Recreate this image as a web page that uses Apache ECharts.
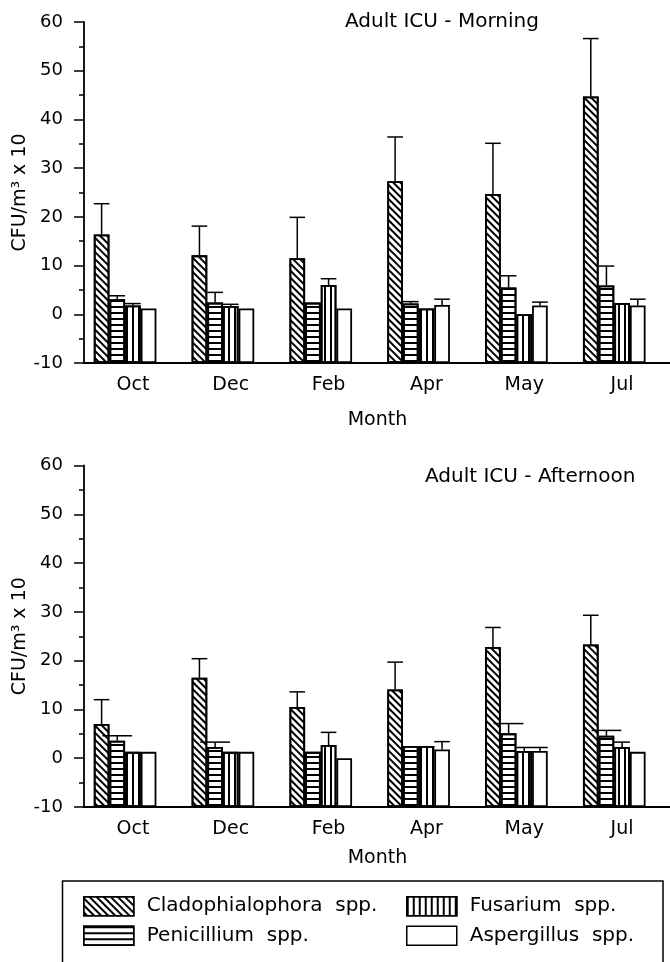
<!DOCTYPE html>
<html>
<head>
<meta charset="utf-8">
<title>Adult ICU - Morning / Afternoon</title>
<script src="https://cdn.jsdelivr.net/npm/echarts@6/dist/echarts.min.js"></script>
<style>
  html, body { margin: 0; padding: 0; background: #fff; }
  #chart { width: 670px; height: 962px; }
</style>
</head>
<body>
<div id="chart"></div>
<script>
// categories
const months = ['Oct', 'Dec', 'Feb', 'Apr', 'May', 'Jul'];
const speciesNames = ['Cladophialophora  spp.', 'Penicillium  spp.', 'Fusarium  spp.', 'Aspergillus  spp.'];

// y axis ticks
const yMin = -10;
const yMax = 60;
const yStep = 10;

// Adult ICU - Morning (mean, SD shown as upper error bar)
const amClado = [16.4, 12.1, 11.5, 27.3, 24.7, 44.7];
const amCladoSd = [6.3, 6.0, 8.4, 9.1, 10.4, 11.9];
const amPeni = [3.1, 2.4, 2.4, 2.2, 5.5, 5.9];
const amPeniSd = [0.7, 2.1, 0, 0.4, 2.4, 4.0];
const amFusa = [1.8, 1.7, 6.0, 1.2, 0, 2.3];
const amFusaSd = [0.4, 0.35, 1.3, 0, 0, 0];
const amAsper = [1.2, 1.2, 1.2, 1.9, 1.8, 1.8];
const amAsperSd = [0, 0, 0, 1.2, 0.7, 1.3];

// Adult ICU - Afternoon
const pmClado = [7.0, 16.5, 10.5, 14.1, 22.8, 23.3];
const pmCladoSd = [5.0, 3.9, 3.1, 5.6, 4.0, 6.0];
const pmPeni = [3.6, 2.3, 1.3, 2.5, 5.1, 4.6];
const pmPeniSd = [1.0, 1.0, 0, 0, 2.0, 1.1];
const pmFusa = [1.3, 1.3, 2.7, 2.5, 1.5, 2.3];
const pmFusaSd = [0, 0, 2.6, 0, 0.7, 1.0];
const pmAsper = [1.3, 1.3, 0, 1.8, 1.5, 1.3];
const pmAsperSd = [0, 0, 0, 1.6, 0.7, 0];

const FONT = 'DejaVu Sans';
const BAR_FRAC = 0.16; // each bar = 16% of the month band, 5 slots (last one empty)

// hatch patterns: diagonal, horizontal, vertical, none
const decals = [
  { symbol: 'rect', symbolSize: 1, color: '#000', dashArrayX: [1, 0], dashArrayY: [1.5, 2.5], rotation: Math.PI / 4 },
  { symbol: 'rect', symbolSize: 1, color: '#000', dashArrayX: [1, 0], dashArrayY: [2, 4] },
  { symbol: 'rect', symbolSize: 1, color: '#000', dashArrayX: [1.5, 3.5], dashArrayY: [1, 0] },
  null
];

function makePanel(idx, values, sds, capScale) {
  const list = values.map(function (vals, s) {
    const it = { color: '#fff', borderColor: '#000', borderWidth: 1.8 };
    if (decals[s]) it.decal = decals[s];
    return {
      name: speciesNames[s],
      type: 'bar',
      xAxisIndex: idx,
      yAxisIndex: idx,
      barWidth: (BAR_FRAC * 100) + '%',
      barGap: '0%',
      itemStyle: it,
      data: vals
    };
  });
  // empty fifth slot, the bars sit left of the band centre in the original
  list.push({
    name: 'empty' + idx,
    type: 'bar',
    xAxisIndex: idx,
    yAxisIndex: idx,
    barWidth: (BAR_FRAC * 100) + '%',
    barGap: '0%',
    data: []
  });

  const errData = [];
  values.forEach(function (vals, s) {
    vals.forEach(function (v, m) {
      errData.push([m, s, v, sds[s][m]]);
    });
  });
  list.push({
    type: 'custom',
    xAxisIndex: idx,
    yAxisIndex: idx,
    z: 5,
    silent: true,
    dimensions: ['m', 's', 'mean', 'sd'],
    encode: { x: 'm', y: 'mean' },
    data: errData,
    renderItem: function (params, api) {
      const m = api.value(0), s = api.value(1), mean = api.value(2), sd = api.value(3);
      if (!sd) return;
      const bw = api.size([1, 0])[0] * BAR_FRAC;
      const p0 = api.coord([m, mean]);
      const p1 = api.coord([m, mean + sd]);
      const cx = p0[0] + (s - 2) * bw;
      const half = bw * capScale[s] / 2;
      const st = { stroke: '#000', lineWidth: 1.5 };
      return {
        type: 'group',
        children: [
          { type: 'line', shape: { x1: cx, y1: p0[1], x2: cx, y2: p1[1] }, style: st },
          { type: 'line', shape: { x1: cx - half, y1: p1[1], x2: cx + half, y2: p1[1] }, style: st }
        ]
      };
    }
  });
  return list;
}

function xAxisOf(idx, gap) {
  return {
    type: 'category',
    gridIndex: idx,
    data: months,
    axisLine: { onZero: false, lineStyle: { color: '#000', width: 1.8 } },
    axisTick: { length: 5, lineStyle: { color: '#000', width: 1.5 } },
    axisLabel: { color: '#000', fontSize: 19, fontFamily: FONT, margin: 13 },
    name: 'Month',
    nameLocation: 'middle',
    nameGap: gap,
    nameTextStyle: { color: '#000', fontSize: 19, fontFamily: FONT }
  };
}

function yAxisOf(idx) {
  return {
    type: 'value',
    gridIndex: idx,
    min: yMin,
    max: yMax,
    interval: yStep,
    startValue: yMin,
    axisLine: { show: true, lineStyle: { color: '#000', width: 1.8 } },
    axisTick: { show: true, length: 10, lineStyle: { color: '#000', width: 1.5 } },
    minorTick: { show: true, splitNumber: 2, length: 5, lineStyle: { color: '#000', width: 1.5 } },
    splitLine: { show: false },
    axisLabel: { color: '#000', fontSize: 18, fontFamily: FONT, margin: 21 },
    name: 'CFU/m\u00b3 x 10',
    nameLocation: 'middle',
    nameGap: 54,
    nameMoveOverlap: false,
    nameTextStyle: { color: '#000', fontSize: 19, fontFamily: FONT }
  };
}

function legendOf(names, left) {
  return {
    data: names,
    left: left,
    top: 896,
    orient: 'vertical',
    icon: 'rect',
    itemWidth: 50,
    itemHeight: 19,
    itemGap: 9,
    padding: 0,
    selectedMode: false,
    itemStyle: { borderColor: '#000', borderWidth: 1.5 },
    textStyle: { color: '#000', fontSize: 20, fontFamily: FONT, padding: [0, 0, 0, 8] }
  };
}

const chart = echarts.init(document.getElementById('chart'), null, { renderer: 'canvas' });

const option = {
  animation: false,
  backgroundColor: '#fff',
  title: [
    { text: 'Adult ICU - Morning', left: 345, top: 12, padding: 0,
      textStyle: { color: '#000', fontSize: 20, fontWeight: 'normal', fontFamily: FONT } },
    { text: 'Adult ICU - Afternoon', left: 425, top: 467, padding: 0,
      textStyle: { color: '#000', fontSize: 20, fontWeight: 'normal', fontFamily: FONT } }
  ],
  // the month axis runs to the right edge of the picture
  grid: [
    { left: 84, top: 22, width: 587, height: 341, outerBoundsMode: 'none' },
    { left: 84, top: 465.5, width: 587, height: 341.5, outerBoundsMode: 'none' }
  ],
  xAxis: [xAxisOf(0, 48), xAxisOf(1, 42)],
  yAxis: [yAxisOf(0), yAxisOf(1)],
  legend: [
    legendOf([speciesNames[0], speciesNames[1]], 83),
    legendOf([speciesNames[2], speciesNames[3]], 406)
  ],
  graphic: [
    { type: 'rect', shape: { x: 62.5, y: 881, width: 600.5, height: 100 },
      style: { fill: 'none', stroke: '#000', lineWidth: 1.5 }, silent: true }
  ],
  series: [].concat(
    makePanel(0, [amClado, amPeni, amFusa, amAsper], [amCladoSd, amPeniSd, amFusaSd, amAsperSd], [1, 1, 1, 1]),
    makePanel(1, [pmClado, pmPeni, pmFusa, pmAsper], [pmCladoSd, pmPeniSd, pmFusaSd, pmAsperSd], [1, 1.9, 1, 1])
  )
};

chart.setOption(option);
window.addEventListener('resize', function () {
  chart.resize();
});
</script>
</body>
</html>
